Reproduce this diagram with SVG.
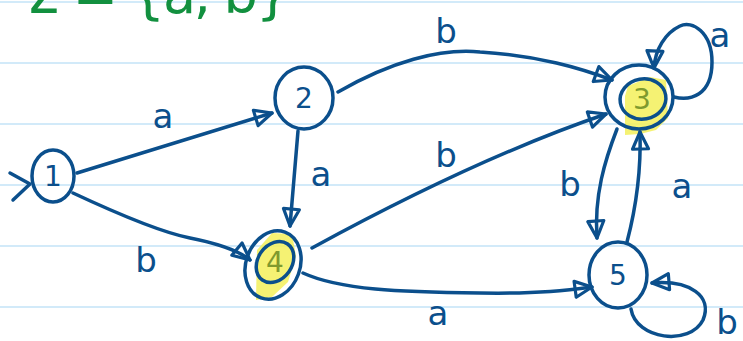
<svg xmlns="http://www.w3.org/2000/svg" width="743" height="341" viewBox="0 0 743 341">
<defs>
<style>
.ink{fill:none;stroke:#0b4f8c;stroke-width:3.5;stroke-linecap:round;stroke-linejoin:round}
.rule{stroke:#d2eaf9;stroke-width:2}
.lbl{font-family:"DejaVu Sans","Liberation Sans",sans-serif;fill:#0b4f8c;font-size:34px;text-anchor:middle}
.num{font-family:"DejaVu Sans","Liberation Sans",sans-serif;fill:#0b4f8c;font-size:28px;text-anchor:middle}
.acc{fill:#7f9a2e}
.hl{fill:#f3f05a;opacity:0.85}
.sig{font-family:"DejaVu Sans","Liberation Sans",sans-serif;fill:#12903f;font-size:54px}
</style>
<marker id="arr" viewBox="-20 -12 24 24" refX="0" refY="0" markerWidth="24" markerHeight="24" markerUnits="userSpaceOnUse" orient="auto">
<path d="M-17,-8 L0,0 L-17,8 Z" fill="none" stroke="#0b4f8c" stroke-width="3.2" stroke-linejoin="round"/>
</marker>
</defs>
<rect width="743" height="341" fill="#ffffff"/>
<g id="paper">
<line class="rule" x1="0" y1="2" x2="743" y2="2"/>
<line class="rule" x1="0" y1="63" x2="743" y2="63"/>
<line class="rule" x1="0" y1="124" x2="743" y2="124"/>
<line class="rule" x1="0" y1="185" x2="743" y2="185"/>
<line class="rule" x1="0" y1="246" x2="743" y2="246"/>
<line class="rule" x1="0" y1="307" x2="743" y2="307"/>
</g>
<g id="alphabet">
<text class="sig" x="26" y="13" textLength="264" lengthAdjust="spacing">Σ = {a, b}</text>
</g>
<g id="highlights">
<path class="hl" d="M628,86 L650,77 L666,80 L668,118 L656,130 L640,134 L625,135 L625,96 Z"/>
<path class="hl" d="M257,250 L272,233 L292,234 L296,256 L288,282 L272,297 L256,300 Z"/>
</g>
<g id="connectors">
<path class="ink" d="M10,173 L30,184 L13,200"/>
<path class="ink" marker-end="url(#arr)" d="M77,173 L272,113"/>
<path class="ink" marker-end="url(#arr)" d="M73,193 C120,215 160,232 190,238 C215,243 238,250 250,260"/>
<path class="ink" marker-end="url(#arr)" d="M298,131 L290,226"/>
<path class="ink" marker-end="url(#arr)" d="M338,92 C390,62 440,48 480,52 C540,56 580,68 612,80"/>
<path class="ink" marker-end="url(#arr)" d="M312,248 C400,200 500,150 606,114"/>
<path class="ink" marker-end="url(#arr)" d="M303,273 C340,290 400,292 480,293 C540,294 570,290 592,287"/>
<path class="ink" marker-end="url(#arr)" d="M617,129 C605,160 594,195 597,238"/>
<path class="ink" marker-end="url(#arr)" d="M627,242 C638,200 641,165 640,132"/>
<path class="ink" marker-end="url(#arr)" d="M674,97 C690,101 712,96 712,62 C712,32 692,20 680,26 C665,33 655,50 654,68"/>
<path class="ink" marker-end="url(#arr)" d="M631,309 C636,340 690,346 703,320 C713,296 690,280 652,283"/>
</g>
<g id="edge-labels">
<text class="lbl" x="163" y="128">a</text>
<text class="lbl" x="146" y="272">b</text>
<text class="lbl" x="321" y="186">a</text>
<text class="lbl" x="446" y="43">b</text>
<text class="lbl" x="446" y="167">b</text>
<text class="lbl" x="438" y="325">a</text>
<text class="lbl" x="570" y="196">b</text>
<text class="lbl" x="682" y="198">a</text>
<text class="lbl" x="720" y="47">a</text>
<text class="lbl" x="727" y="334">b</text>
</g>
<g id="node-1">
<ellipse class="ink" cx="53" cy="176" rx="21" ry="26"/>
<text class="num" x="53" y="186">1</text>
</g>
<g id="node-2">
<ellipse class="ink" cx="304" cy="98" rx="29" ry="31"/>
<text class="num" x="304" y="108">2</text>
</g>
<g id="node-3">
<ellipse class="ink" cx="639" cy="97" rx="34" ry="32"/>
<ellipse class="ink" cx="643" cy="99" rx="23" ry="20" transform="rotate(-10 643 99)"/>
<text class="num acc" x="642" y="109">3</text>
</g>
<g id="node-4">
<ellipse class="ink" cx="273" cy="265" rx="27" ry="35" transform="rotate(20 273 265)"/>
<ellipse class="ink" cx="275" cy="262" rx="17" ry="22" transform="rotate(35 275 262)"/>
<text class="num acc" x="275" y="272">4</text>
</g>
<g id="node-5">
<ellipse class="ink" cx="618" cy="275" rx="29" ry="33"/>
<text class="num" x="618" y="285">5</text>
</g>
</svg>
